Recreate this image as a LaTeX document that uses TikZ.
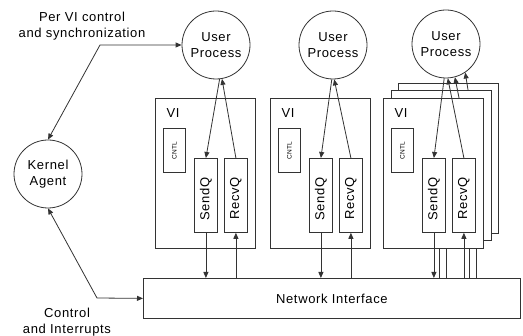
\documentclass[tikz,border=0pt]{standalone}
\usepackage{fontspec}
\setmainfont{Liberation Sans}[LetterSpace=5]
\usetikzlibrary{arrows.meta,calc}
\begin{document}
\begin{tikzpicture}[x=1pt,y=-1pt,
  ln/.style={line width=0.8pt,draw=black!80},
  tip/.tip={Triangle[length=6pt,width=5pt]},
  arr/.style={ln,-tip},
  dblarr/.style={ln,tip-tip},
  txt/.style={font=\fontsize{13}{16}\selectfont,align=center,inner sep=0pt},
  proc/.style={circle,ln,minimum size=68pt,inner sep=0pt,txt},
  vibox/.style={ln,fill=white,anchor=north west,inner sep=0pt,
    minimum width=100pt,minimum height=150pt},
  qbox/.style={ln,fill=white,anchor=north west,inner sep=0pt,
    minimum width=23pt,minimum height=74pt},
  cbox/.style={ln,anchor=north west,inner sep=0pt,
    minimum width=22pt,minimum height=44pt},
  small/.style={font=\fontsize{6.5}{8}\selectfont,inner sep=0pt},
]
\useasboundingbox (0,0) rectangle (523,336);

% processes and the kernel agent
\node[proc] (up1) at (216,45) {User\\Process};
\node[proc] (up2) at (333,45) {User\\Process};
\node[proc] (up3) at (446,44) {User\\Process};
\node[proc] (ka) at (48,174) {Kernel\\Agent};

% network interface
\node[ln,anchor=north west,inner sep=0pt,minimum width=377pt,
  minimum height=40pt,txt] (ni) at (143,278) {Network Interface};

% labels
\node[txt] (lbl1) at (82,26) {Per VI control\\and synchronization};
\node[txt] (lbl2) at (67,322) {Control\\and Interrupts};

% kernel agent paths
\coordinate (kc1) at (100,45);
\coordinate (kc2) at (97,298);
\draw[dblarr] (ka.north) -- (kc1) -- (up1.west);
\draw[dblarr] (ka.south) -- (kc2) -- (ni.west);

% stacked VIs behind the third one (only their edges and wires show)
\node[vibox] (vi3c) at (398,83) {};
\coordinate (rtc) at (476.5,143);
\coordinate (sbc) at (446.5,217);
\coordinate (rbc) at (476.5,217);
\draw[arr] (rtc) -- (up3.304);
\draw[ln] (sbc) -- (sbc |- ni.north);
\draw[arr] (rbc |- ni.north) -- (rbc);

\node[vibox] (vi3b) at (390.5,90.5) {};
\coordinate (rtb) at (469.5,150.5);
\coordinate (sbb) at (439.5,224.5);
\coordinate (rbb) at (469.5,224.5);
\draw[arr] (rtb) -- (up3.285);
\draw[ln] (sbb) -- (sbb |- ni.north);
\draw[arr] (rbb |- ni.north) -- (rbb);

% the three front VIs
\foreach \i/\x in {1/155,2/270,3/383} {
  \node[vibox] (vi\i) at (\x,98) {};
  \node[txt] (vl\i) at (\x+18,113) {VI};
  \node[cbox] (ct\i) at (\x+8,128) {};
  \node[small,rotate=90] at (ct\i) {CNTL};
  \node[qbox] (sq\i) at (\x+39,158) {};
  \node[txt,rotate=90] at ($(sq\i)+(0,4)$) {SendQ};
  \node[qbox] (rq\i) at (\x+69,158) {};
  \node[txt,rotate=90] at ($(rq\i)+(0,3)$) {RecvQ};
  \draw[arr] (sq\i.south) -- (sq\i.south |- ni.north);
  \draw[arr] (rq\i.south |- ni.north) -- (rq\i.south);
}

% queue wires to the user processes
\draw[arr] (up1.276) -- (sq1.north);
\draw[arr] (rq1.north) -- (up1.280);
\draw[arr] (up2.268) -- (sq2.north);
\draw[arr] (rq2.north) -- (up2.272);
\draw[arr] (up3.267) -- (sq3.north);
\draw[arr] (rq3.north) -- (up3.273);
\end{tikzpicture}
\end{document}
